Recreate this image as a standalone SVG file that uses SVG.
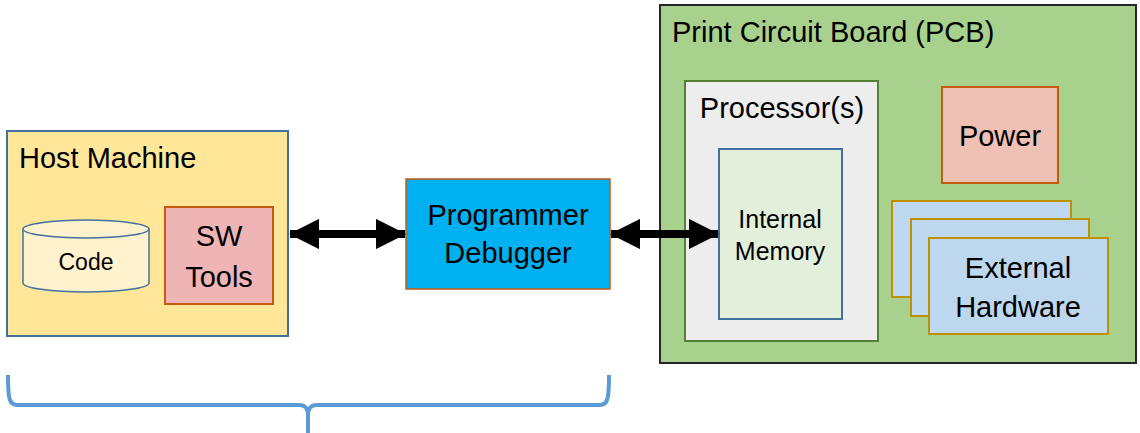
<svg xmlns="http://www.w3.org/2000/svg" width="1140" height="433" viewBox="0 0 1140 433">
  <style>
    text { font-family: "Liberation Sans", Arial, sans-serif; fill: #000; }
    .big { font-size: 29px; }
    .mid { font-size: 25px; }
    .sm { font-size: 23px; }
    .c { text-anchor: middle; }
    .link { stroke: #000; stroke-width: 8; fill: none; }
  </style>
  <defs>
    <marker id="head" viewBox="0 0 10 10" refX="9.6" refY="5" markerWidth="3.8" markerHeight="3.8" markerUnits="strokeWidth" orient="auto-start-reverse">
      <path d="M0,0 L10,5 L0,10 Z" fill="#000"/>
    </marker>
  </defs>

  <!-- host side -->
  <g id="host-machine">
    <rect x="7" y="131" width="281" height="205" fill="#FFE699" stroke="#41719C" stroke-width="2"/>
    <text class="big" x="19" y="168">Host Machine</text>
  </g>
  <g id="code">
    <path d="M23,229 L23,283 A63,9 0 0 0 149,283 L149,229" fill="#FFF2CC" stroke="#41719C" stroke-width="1.5"/>
    <ellipse cx="86" cy="229" rx="63" ry="9" fill="#FFF2CC" stroke="#41719C" stroke-width="1.5"/>
    <text class="sm c" x="86" y="270">Code</text>
  </g>
  <g id="sw-tools">
    <rect x="165" y="207" width="108" height="97" fill="#EFB4B4" stroke="#C55A11" stroke-width="2"/>
    <text class="big c" x="219" y="246">SW</text>
    <text class="big c" x="219" y="287">Tools</text>
  </g>

  <g id="programmer-debugger">
    <rect x="406" y="179" width="204" height="110" fill="#00B0F0" stroke="#C55A11" stroke-width="1.5"/>
    <text class="big c" x="508" y="225">Programmer</text>
    <text class="big c" x="508" y="263">Debugger</text>
  </g>

  <!-- target board -->
  <g id="pcb">
    <rect x="660" y="5" width="476" height="358" fill="#A9D18E" stroke="#262626" stroke-width="2"/>
    <text class="big" x="672" y="42">Print Circuit Board (PCB)</text>
  </g>
  <g id="processor">
    <rect x="685" y="81" width="193" height="260" fill="#EDEDED" stroke="#538135" stroke-width="2"/>
    <text class="big c" x="782" y="118">Processor(s)</text>
  </g>
  <g id="internal-memory">
    <rect x="719" y="149" width="123" height="170" fill="#E2EFDA" stroke="#41719C" stroke-width="2"/>
    <text class="mid c" x="780" y="228">Internal</text>
    <text class="mid c" x="780" y="260">Memory</text>
  </g>
  <g id="power">
    <rect x="942" y="87" width="116" height="96" fill="#EFC1B5" stroke="#C55A11" stroke-width="2"/>
    <text class="big c" x="1000" y="146">Power</text>
  </g>
  <g id="external-hardware">
    <rect x="892" y="201" width="179" height="96" fill="#BDD7EE" stroke="#BF9000" stroke-width="2"/>
    <rect x="911" y="219" width="178" height="97" fill="#BDD7EE" stroke="#BF9000" stroke-width="2"/>
    <rect x="929" y="238" width="179" height="96" fill="#BDD7EE" stroke="#BF9000" stroke-width="2"/>
    <text class="big c" x="1018" y="278">External</text>
    <text class="big c" x="1018" y="317">Hardware</text>
  </g>

  <g id="connectors">
    <line class="link" x1="290" y1="234" x2="405" y2="234" marker-start="url(#head)" marker-end="url(#head)"/>
    <line class="link" x1="611" y1="234" x2="718" y2="234" marker-start="url(#head)" marker-end="url(#head)"/>
  </g>

  <!-- brace spanning the host machine and the programmer -->
  <path d="M8,375 C8,398 9,405 17,405 L299,405 C305,405 308,408 308,416 L308,433 M609,375 C609,398 608,405 600,405 L317,405 C311,405 308,408 308,416" fill="none" stroke="#5B9BD5" stroke-width="4"/>
</svg>
